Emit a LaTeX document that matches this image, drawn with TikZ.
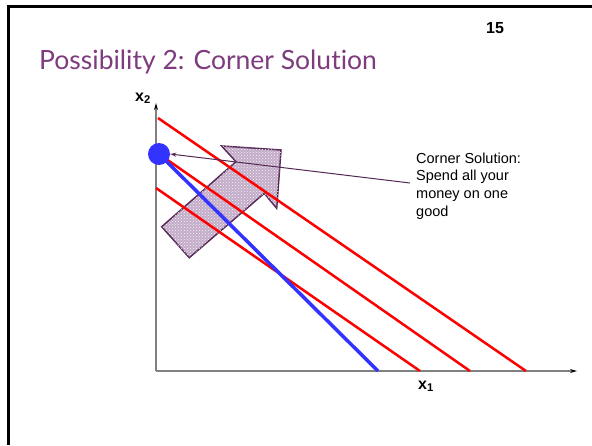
\documentclass[tikz,border=0pt]{standalone}
\usepackage{fontspec}
\setmainfont{Liberation Sans}
\newfontfamily\titlefont[Ligatures={NoCommon}]{Lato}
\usetikzlibrary{arrows.meta,positioning,patterns}
\definecolor{titlepurple}{RGB}{125,60,125}
\definecolor{budgetred}{RGB}{255,0,0}
\definecolor{budgetblue}{RGB}{51,51,255}
\definecolor{arrowfill}{RGB}{195,172,200}
\definecolor{arrowedge}{RGB}{85,40,85}
\definecolor{axisgray}{RGB}{128,128,128}

\begin{document}
\begin{tikzpicture}[x=1pt, y=-1pt,
  axis/.style={draw=axisgray, line width=1.5pt, -{Stealth[length=7pt, width=4pt, black]}},
  budget/.style={draw=budgetred, line width=2.5pt},
  oldbudget/.style={draw=budgetblue, line width=3.5pt},
  lbl/.style={font=\fontsize{16}{18}\selectfont\bfseries, inner sep=0pt},
  note/.style={font=\fontsize{14.5}{17.7}\selectfont, align=left, inner sep=0pt},
  callout/.style={draw=arrowedge, line width=1pt, -{Stealth[length=6pt, width=4pt]}},
  bigarrow/.style={draw=arrowedge, line width=1.5pt, fill=arrowfill,
    postaction={pattern=crosshatch dots, pattern color=white!85!arrowfill}}
]
\useasboundingbox (0,0) rectangle (592,445);
\draw[line width=3pt] (8.5,445) |- (592,6.5);
\node[font=\titlefont\fontsize{26.5}{30}\selectfont, text=titlepurple, anchor=base west, inner sep=0pt]
  (title) at (39,69) {Possibility 2: Corner Solution};
\node[lbl, anchor=base west] (pageno) at (486,33) {15};

\coordinate (O) at (156,371);
\coordinate (ytip) at (156,103);
\coordinate (xtip) at (577,371);
\draw[axis] (O) -- (ytip);
\draw[axis] (O) -- (xtip);
\node[lbl, anchor=base west] (ylab) at (135,101) {x\textsubscript{2}};
\node[lbl, anchor=base west] (xlab) at (418,389) {x\textsubscript{1}};

\draw[bigarrow] (161.7,226.7) -- (189.3,257.7) -- (264.3,193.3) -- (276.7,208.3)
  -- (281,150) -- (221.7,146) -- (236,161.7) -- cycle;

\coordinate (corner) at (159,154);
\coordinate (b1a) at (158,118);
\coordinate (b1b) at (526,371);
\coordinate (b2b) at (470,371);
\coordinate (b3a) at (156,188);
\coordinate (b3b) at (420,371);
\coordinate (b0b) at (378,371);
\draw[budget] (b1a) -- (b1b);
\draw[budget] (corner) -- (b2b);
\draw[budget] (b3a) -- (b3b);
\draw[oldbudget] (corner) -- (b0b);

\node[note, anchor=north west] (note) at (416,152.5)
  {Corner Solution:\\Spend all your\\money on one\\good};
\coordinate (notefoot) at (410,183);
\node[circle, fill=budgetblue, minimum size=22pt, inner sep=0pt] (dot) at (corner) {};
\draw[callout] (notefoot) -- (dot.east);
\end{tikzpicture}
\end{document}
